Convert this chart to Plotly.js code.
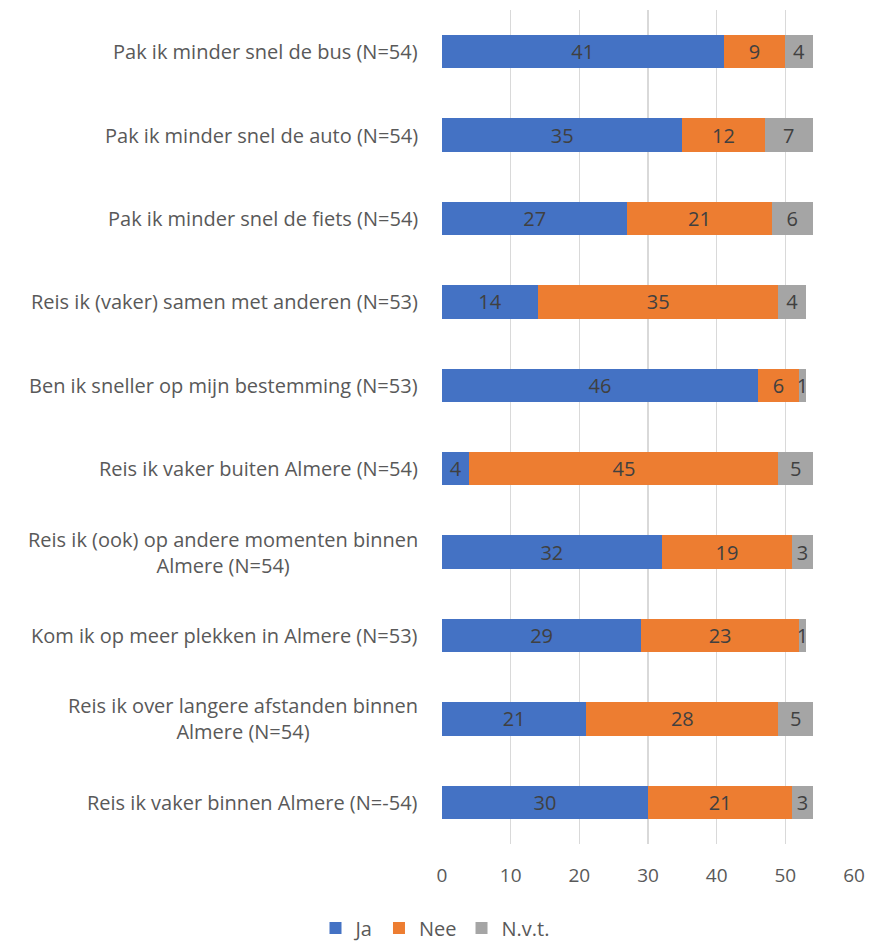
<!DOCTYPE html>
<html>
<head>
<meta charset="utf-8">
<script src="https://cdn.plot.ly/plotly-3.0.1.min.js"></script>
<style>html,body{margin:0;padding:0;background:#fff;}#chart{width:870px;height:943px;}</style>
</head>
<body>
<div id="chart"></div>
<script>
var categories = [
  "Pak ik minder snel de bus (N=54)",
  "Pak ik minder snel de auto (N=54)",
  "Pak ik minder snel de fiets (N=54)",
  "Reis ik (vaker) samen met anderen (N=53)",
  "Ben ik sneller op mijn bestemming (N=53)",
  "Reis ik vaker buiten Almere (N=54)",
  "Reis ik (ook) op andere momenten binnen<br>Almere (N=54)",
  "Kom ik op meer plekken in Almere (N=53)",
  "Reis ik over langere afstanden binnen<br>Almere (N=54)",
  "Reis ik vaker binnen Almere (N=-54)"
];
var ja  = [41, 35, 27, 14, 46, 4, 32, 29, 21, 30];
var nee = [9, 12, 21, 35, 6, 45, 19, 23, 28, 21];
var nvt = [4, 7, 6, 4, 1, 5, 3, 1, 5, 3];
var seriesNames = ["Ja", "Nee", "N.v.t."];
var xTicks = [0, 10, 20, 30, 40, 50, 60];

var FONT = "Open Sans, Liberation Sans, sans-serif";
var colors = ["#4472C4", "#ED7D31", "#A5A5A5"];
var vals = [ja, nee, nvt];
var traces = vals.map(function(v, i){
  return {
    type: "bar", orientation: "h", name: seriesNames[i],
    y: categories, x: v, text: v.map(String),
    textposition: "inside", insidetextanchor: "middle", constraintext: "none",
    textfont: {family: FONT, size: 20, color: "#404040"},
    marker: {color: colors[i]}, hoverinfo: "none", cliponaxis: false
  };
});

var annotations = categories.map(function(c){
  return {
    xref: "paper", yref: "y", x: 0, y: c, xanchor: "right", yanchor: "middle",
    xshift: -22, text: c, showarrow: false, align: "center",
    font: {family: FONT, size: 20, color: "#595959"}
  };
});

var layout = {
  width: 870, height: 943,
  margin: {l: 442, r: 16, t: 10, b: 99, autoexpand: false},
  barmode: "stack", bargap: 0.6,
  paper_bgcolor: "#fff", plot_bgcolor: "#fff",
  showlegend: true,
  legend: {orientation: "h", x: 0.5, xanchor: "center", y: 0.016, yanchor: "middle",
           xref: "container", yref: "container",
           font: {family: FONT, size: 20, color: "#595959"}, traceorder: "normal"},
  xaxis: {range: [0, 60], tickvals: xTicks, ticktext: xTicks.map(String),
          showgrid: true, gridcolor: "#D9D9D9", gridwidth: 1.5, zeroline: false,
          showline: false, ticks: "", ticklabelstandoff: 18, automargin: false,
          tickfont: {family: FONT, size: 19, color: "#595959"}, fixedrange: true},
  yaxis: {autorange: "reversed", showticklabels: false, showgrid: false, zeroline: false,
          showline: false, ticks: "", automargin: false},
  annotations: annotations
};
Plotly.newPlot("chart", traces, layout, {displayModeBar: false, staticPlot: true});
</script>
</body>
</html>
